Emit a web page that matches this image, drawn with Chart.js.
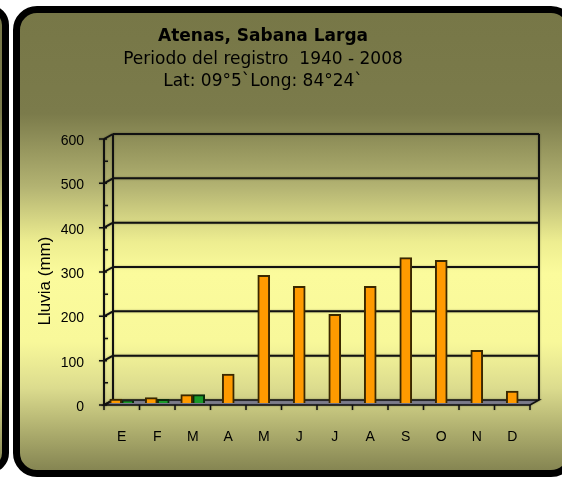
<!DOCTYPE html>
<html>
<head>
<meta charset="utf-8">
<script src="https://cdn.jsdelivr.net/npm/chart.js@4/dist/chart.umd.min.js"></script>
<style>
  html, body { margin: 0; padding: 0; background: #fff; overflow: hidden; }
  #wrap { position: relative; width: 562px; height: 477px; overflow: hidden; }
  .panel {
    position: absolute; box-sizing: border-box;
    border: 7px solid #000; border-radius: 24px;
    background: linear-gradient(to bottom, #777747 0%, #7b7b4b 22%, #b3b372 38%, #eded90 50%, #fbfb9c 57%, #f8f89a 72%, #dcdc8e 82%, #abab6c 92%, #858552 100%);
  }
  #main { left: 13px; top: 6px; width: 562px; height: 471px; }
  #prev { left: -50px; top: 5px; width: 59px; height: 468px; border-radius: 20px; }
  canvas { position: absolute; left: 0; top: 0; }
</style>
</head>
<body>
<div id="wrap">
  <div class="panel" id="prev"></div>
  <div class="panel" id="main"></div>
  <canvas id="lluvia" width="562" height="477"></canvas>
</div>
<script>
const meses = ["E", "F", "M", "A", "M", "J", "J", "A", "S", "O", "N", "D"];
const lluvia = [9, 12, 19, 65, 288, 263, 200, 263, 328, 322, 119, 27];
const verde = [5, 8, 19, null, null, null, null, null, null, null, null, null];
const titulo = "Atenas, Sabana Larga";
const subtitulo = ["Periodo del registro  1940 - 2008", "Lat: 09\u00b05`Long: 84\u00b024`"];
const ejeY = "Lluvia (mm)";

// 3D frame: floor, back walls, grid and front axis
const marco3d = {
  id: "marco3d",
  beforeDatasetsDraw(chart) {
    const ctx = chart.ctx;
    const a = chart.chartArea;
    const x = chart.scales.x, y = chart.scales.y;
    const fy = v => y.getPixelForValue(v) + 2;
    const by = v => y.getPixelForValue(v) - 3;
    const L = a.left, R = a.right, bl = L + 9, br = R + 9;
    ctx.save();
    ctx.shadowColor = "rgba(0,0,0,0.35)";
    ctx.shadowBlur = 2;
    // floor
    ctx.fillStyle = "#80808f";
    ctx.beginPath();
    ctx.moveTo(L, fy(0)); ctx.lineTo(bl, by(0)); ctx.lineTo(br, by(0)); ctx.lineTo(R, fy(0));
    ctx.closePath();
    ctx.fill();
    ctx.strokeStyle = "#111";
    ctx.lineWidth = 1.5;
    ctx.stroke();
    // grid lines and side wall
    ctx.lineWidth = 2;
    ctx.beginPath();
    for (const t of y.ticks) {
      if (t.value > 0) {
        ctx.moveTo(bl, by(t.value)); ctx.lineTo(br, by(t.value));
      }
      ctx.moveTo(L, fy(t.value)); ctx.lineTo(bl, by(t.value));
    }
    ctx.moveTo(bl, by(y.max)); ctx.lineTo(bl, by(0));
    ctx.moveTo(br, by(y.max)); ctx.lineTo(br, by(0));
    ctx.moveTo(L, fy(y.max)); ctx.lineTo(L, fy(0));
    ctx.stroke();
    // y ticks
    ctx.lineWidth = 1.5;
    ctx.beginPath();
    for (let v = 0; v <= y.max; v += 50) {
      if (v % 100 === 0) { ctx.moveTo(L - 5, fy(v)); ctx.lineTo(L + 3, fy(v)); }
      else { ctx.moveTo(L, fy(v)); ctx.lineTo(L + 4, fy(v)); }
    }
    // x ticks
    for (let k = 0; k <= meses.length; k++) {
      let px;
      if (k === 0) px = L;
      else if (k === meses.length) px = R;
      else px = (x.getPixelForValue(k - 1) + x.getPixelForValue(k)) / 2;
      ctx.moveTo(px, fy(0)); ctx.lineTo(px, fy(0) + 5);
    }
    ctx.stroke();
    ctx.restore();
  },
  afterDraw(chart) {
    const ctx = chart.ctx;
    ctx.save();
    ctx.fillStyle = "#000";
    ctx.textAlign = "center";
    ctx.textBaseline = "middle";
    ctx.font = 'bold 17px "DejaVu Sans"';
    ctx.fillText(titulo, 263, 37);
    ctx.font = '17px "DejaVu Sans"';
    ctx.fillText(subtitulo[0], 263, 60);
    ctx.fillText(subtitulo[1], 263, 82);
    // y axis title
    ctx.translate(45, 281);
    ctx.rotate(-Math.PI / 2);
    ctx.font = '17px "Liberation Sans"';
    ctx.fillText(ejeY, 0, 0);
    ctx.restore();
  }
};

let ctx = document.getElementById("lluvia");
let barChart = new Chart(ctx, {
  type: "bar",
  data: {
    labels: meses,
    datasets: [
      {
        label: "Lluvia",
        data: lluvia,
        backgroundColor: "#ff9a00",
        borderColor: "#3a2800",
        borderWidth: 2,
        borderSkipped: "bottom"
      },
      {
        label: "Otro",
        data: verde,
        backgroundColor: "#1a9a2a",
        borderColor: "#0c2a0c",
        borderWidth: 2,
        borderSkipped: "bottom"
      }
    ]
  },
  options: {
    responsive: false,
    animation: false,
    skipNull: true,
    barThickness: 12,
    layout: { padding: { top: 137, left: 31, right: 32, bottom: 29 } },
    plugins: {
      legend: { display: false },
      tooltip: { enabled: false }
    },
    scales: {
      x: {
        grid: { display: false },
        border: { display: false },
        ticks: { color: "#000", font: { family: "Liberation Sans", size: 14 }, padding: 18 },
        afterFit(scale) { scale.height = 45; }
      },
      y: {
        min: 0,
        max: 600,
        grid: { display: false, drawTicks: false },
        border: { display: false },
        ticks: { stepSize: 100, color: "#000", font: { family: "Liberation Sans", size: 14 }, padding: 20, labelOffset: 4 },
        afterFit(scale) { scale.width = 73; }
      }
    }
  },
  plugins: [marco3d]
});
</script>
</body>
</html>
